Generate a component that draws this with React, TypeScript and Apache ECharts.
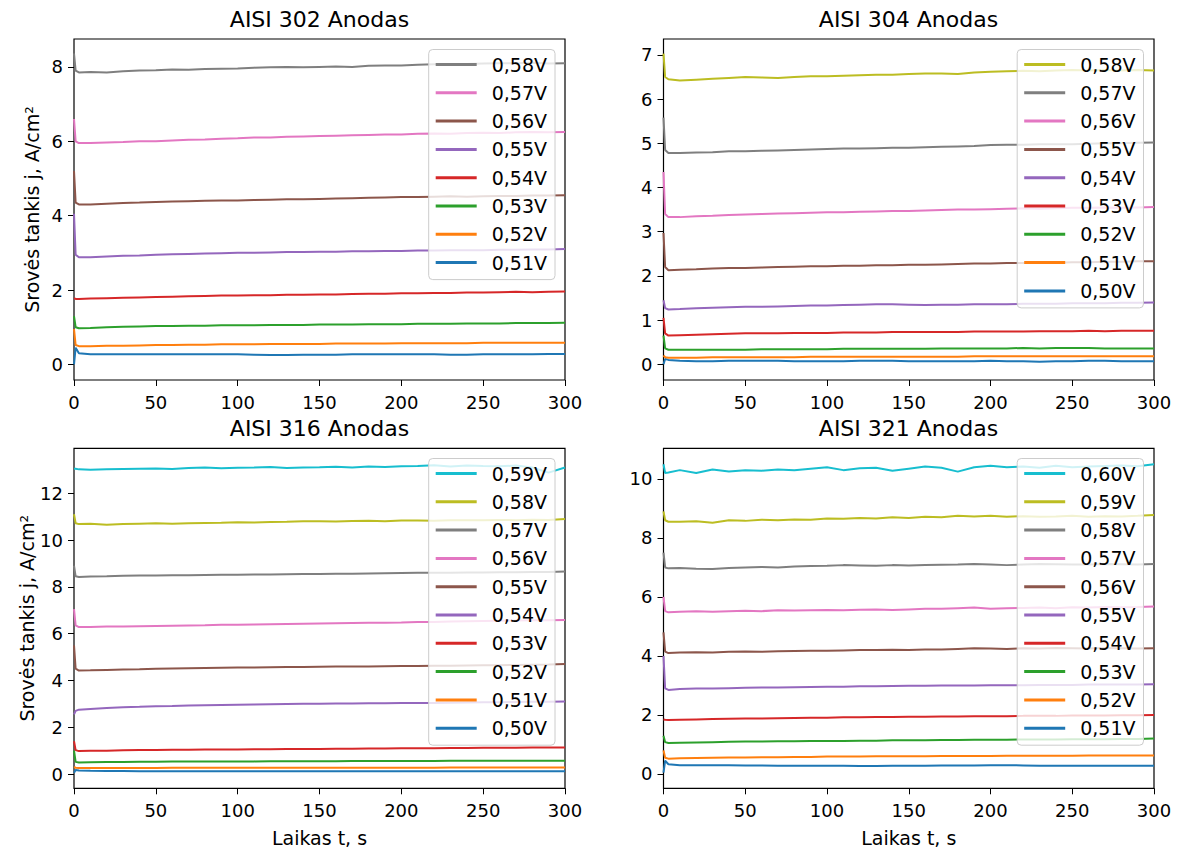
import { useEffect, useRef } from "react";
import * as echarts from "echarts";

// time axis, s
const TIME = [0, 1, 3, 10, 20, 30, 40, 50, 60, 70, 80, 90, 100, 110, 120, 130, 140, 150, 160, 170, 180, 190, 200, 210, 220, 230, 240, 250, 260, 270, 280, 290, 300];
const X_TICKS = [0, 50, 100, 150, 200, 250, 300];

// ---------- AISI 302 ----------
const LABELS_302 = ["0,51V", "0,52V", "0,53V", "0,54V", "0,55V", "0,56V", "0,57V", "0,58V"];
const Y_TICKS_302 = [0, 2, 4, 6, 8];
const J302_051 = [0.0, 0.45, 0.3, 0.27, 0.27, 0.27, 0.27, 0.27, 0.27, 0.27, 0.27, 0.27, 0.27, 0.26, 0.25, 0.25, 0.26, 0.26, 0.26, 0.27, 0.27, 0.27, 0.27, 0.27, 0.27, 0.26, 0.26, 0.27, 0.27, 0.27, 0.27, 0.28, 0.28];
const J302_052 = [0.95, 0.52, 0.49, 0.49, 0.5, 0.5, 0.51, 0.52, 0.52, 0.53, 0.53, 0.54, 0.54, 0.54, 0.55, 0.55, 0.55, 0.55, 0.56, 0.56, 0.56, 0.56, 0.57, 0.57, 0.57, 0.57, 0.57, 0.58, 0.58, 0.58, 0.58, 0.58, 0.58];
const J302_053 = [1.3, 1.0, 0.97, 0.98, 1.0, 1.01, 1.02, 1.03, 1.03, 1.04, 1.04, 1.05, 1.05, 1.05, 1.06, 1.06, 1.06, 1.07, 1.07, 1.07, 1.08, 1.08, 1.08, 1.09, 1.09, 1.09, 1.1, 1.1, 1.1, 1.11, 1.11, 1.11, 1.12];
const J302_054 = [1.78, 1.76, 1.76, 1.77, 1.78, 1.79, 1.8, 1.81, 1.82, 1.83, 1.84, 1.85, 1.85, 1.86, 1.86, 1.87, 1.87, 1.88, 1.88, 1.89, 1.9, 1.9, 1.91, 1.91, 1.92, 1.92, 1.93, 1.93, 1.94, 1.95, 1.94, 1.95, 1.96];
const J302_055 = [4.05, 2.95, 2.88, 2.88, 2.9, 2.92, 2.93, 2.95, 2.96, 2.97, 2.98, 2.99, 3.0, 3.0, 3.01, 3.02, 3.02, 3.03, 3.03, 3.04, 3.04, 3.05, 3.05, 3.06, 3.06, 3.07, 3.07, 3.07, 3.08, 3.08, 3.09, 3.09, 3.1];
const J302_056 = [5.2, 4.35, 4.3, 4.3, 4.32, 4.34, 4.35, 4.37, 4.38, 4.39, 4.4, 4.41, 4.41, 4.42, 4.43, 4.44, 4.44, 4.45, 4.46, 4.47, 4.48, 4.49, 4.5, 4.5, 4.51, 4.52, 4.51, 4.52, 4.53, 4.53, 4.54, 4.54, 4.55];
const J302_057 = [6.6, 6.0, 5.95, 5.95, 5.97, 5.98, 6.0, 6.0, 6.02, 6.04, 6.05, 6.07, 6.08, 6.1, 6.1, 6.12, 6.13, 6.14, 6.15, 6.16, 6.17, 6.18, 6.18, 6.2, 6.21, 6.2, 6.22, 6.23, 6.22, 6.24, 6.25, 6.24, 6.25];
const J302_058 = [8.36, 7.9, 7.85, 7.86, 7.85, 7.88, 7.9, 7.91, 7.93, 7.92, 7.94, 7.95, 7.96, 7.98, 7.99, 8.0, 7.99, 8.0, 8.01, 8.0, 8.03, 8.04, 8.04, 8.06, 8.07, 8.08, 8.08, 8.09, 8.1, 8.1, 8.11, 8.09, 8.1];

// ---------- AISI 304 ----------
const LABELS_304 = ["0,50V", "0,51V", "0,52V", "0,53V", "0,54V", "0,55V", "0,56V", "0,57V", "0,58V"];
const Y_TICKS_304 = [0, 1, 2, 3, 4, 5, 6, 7];
const J304_050 = [0.0, 0.12, 0.1, 0.08, 0.07, 0.07, 0.08, 0.08, 0.08, 0.08, 0.07, 0.07, 0.07, 0.07, 0.08, 0.08, 0.08, 0.07, 0.07, 0.07, 0.07, 0.07, 0.08, 0.07, 0.07, 0.06, 0.07, 0.07, 0.08, 0.08, 0.07, 0.07, 0.07];
const J304_051 = [0.2, 0.16, 0.15, 0.15, 0.15, 0.16, 0.16, 0.16, 0.16, 0.16, 0.16, 0.17, 0.17, 0.17, 0.17, 0.17, 0.17, 0.17, 0.17, 0.17, 0.17, 0.18, 0.18, 0.18, 0.18, 0.18, 0.18, 0.18, 0.18, 0.18, 0.18, 0.18, 0.18];
const J304_052 = [0.65, 0.36, 0.33, 0.33, 0.33, 0.33, 0.33, 0.33, 0.34, 0.34, 0.34, 0.34, 0.34, 0.35, 0.35, 0.35, 0.35, 0.35, 0.35, 0.36, 0.36, 0.36, 0.36, 0.36, 0.37, 0.36, 0.37, 0.37, 0.37, 0.36, 0.36, 0.36, 0.36];
const J304_053 = [1.05, 0.7, 0.65, 0.66, 0.67, 0.68, 0.69, 0.7, 0.7, 0.7, 0.71, 0.71, 0.71, 0.72, 0.72, 0.72, 0.73, 0.73, 0.73, 0.73, 0.73, 0.74, 0.74, 0.74, 0.74, 0.75, 0.75, 0.75, 0.76, 0.75, 0.76, 0.76, 0.76];
const J304_054 = [1.45, 1.27, 1.24, 1.25, 1.27, 1.28, 1.29, 1.3, 1.3, 1.31, 1.32, 1.33, 1.33, 1.34, 1.35, 1.36, 1.36, 1.35, 1.34, 1.35, 1.35, 1.36, 1.36, 1.36, 1.37, 1.37, 1.37, 1.38, 1.38, 1.38, 1.39, 1.39, 1.4];
const J304_055 = [2.97, 2.2, 2.13, 2.14, 2.15, 2.17, 2.18, 2.18, 2.19, 2.2, 2.21, 2.22, 2.22, 2.23, 2.23, 2.24, 2.24, 2.25, 2.25, 2.26, 2.27, 2.28, 2.28, 2.29, 2.29, 2.3, 2.3, 2.31, 2.31, 2.32, 2.32, 2.33, 2.33];
const J304_056 = [4.35, 3.4, 3.33, 3.33, 3.35, 3.36, 3.38, 3.39, 3.4, 3.41, 3.42, 3.43, 3.44, 3.44, 3.45, 3.46, 3.47, 3.47, 3.48, 3.49, 3.5, 3.5, 3.51, 3.52, 3.53, 3.52, 3.53, 3.54, 3.54, 3.55, 3.54, 3.55, 3.56];
const J304_057 = [5.58, 4.85, 4.78, 4.78, 4.79, 4.8, 4.82, 4.82, 4.83, 4.84, 4.85, 4.86, 4.87, 4.88, 4.88, 4.89, 4.9, 4.9, 4.91, 4.92, 4.93, 4.94, 4.96, 4.97, 4.97, 4.98, 4.98, 4.98, 4.99, 5.0, 5.0, 5.01, 5.02];
const J304_058 = [7.03, 6.5, 6.45, 6.42, 6.44, 6.46, 6.48, 6.5, 6.49, 6.48, 6.5, 6.52, 6.52, 6.53, 6.54, 6.55, 6.55, 6.57, 6.58, 6.58, 6.57, 6.6, 6.62, 6.63, 6.64, 6.63, 6.65, 6.66, 6.65, 6.66, 6.65, 6.66, 6.65];

// ---------- AISI 316 ----------
const LABELS_316 = ["0,50V", "0,51V", "0,52V", "0,53V", "0,54V", "0,55V", "0,56V", "0,57V", "0,58V", "0,59V"];
const Y_TICKS_316 = [0, 2, 4, 6, 8, 10, 12];
const J316_050 = [0.05, 0.17, 0.15, 0.14, 0.13, 0.13, 0.12, 0.12, 0.12, 0.12, 0.12, 0.12, 0.12, 0.12, 0.12, 0.12, 0.12, 0.12, 0.12, 0.12, 0.12, 0.12, 0.12, 0.12, 0.12, 0.12, 0.12, 0.12, 0.12, 0.12, 0.12, 0.12, 0.12];
const J316_051 = [0.3, 0.27, 0.26, 0.26, 0.26, 0.26, 0.26, 0.26, 0.27, 0.27, 0.27, 0.27, 0.27, 0.27, 0.27, 0.27, 0.27, 0.27, 0.27, 0.27, 0.27, 0.27, 0.27, 0.27, 0.27, 0.28, 0.28, 0.28, 0.28, 0.28, 0.28, 0.28, 0.28];
const J316_052 = [1.0, 0.52, 0.49, 0.5, 0.51, 0.51, 0.52, 0.52, 0.53, 0.53, 0.54, 0.54, 0.54, 0.54, 0.55, 0.55, 0.55, 0.55, 0.55, 0.56, 0.56, 0.56, 0.56, 0.56, 0.56, 0.57, 0.57, 0.57, 0.57, 0.57, 0.57, 0.57, 0.57];
const J316_053 = [1.4, 1.02, 0.98, 0.99, 1.0, 1.02, 1.03, 1.03, 1.04, 1.04, 1.05, 1.05, 1.05, 1.06, 1.06, 1.07, 1.07, 1.07, 1.08, 1.08, 1.09, 1.09, 1.1, 1.1, 1.1, 1.11, 1.11, 1.12, 1.12, 1.12, 1.13, 1.13, 1.13];
const J316_054 = [2.55, 2.7, 2.75, 2.78, 2.82, 2.85, 2.87, 2.9, 2.91, 2.93, 2.94, 2.95, 2.96, 2.97, 2.98, 2.99, 3.0, 3.0, 3.01, 3.01, 3.02, 3.02, 3.03, 3.04, 3.04, 3.05, 3.06, 3.07, 3.07, 3.08, 3.09, 3.09, 3.1];
const J316_055 = [5.5, 4.5, 4.42, 4.43, 4.45, 4.47, 4.48, 4.5, 4.51, 4.52, 4.53, 4.54, 4.55, 4.55, 4.56, 4.57, 4.57, 4.58, 4.59, 4.6, 4.6, 4.61, 4.62, 4.62, 4.63, 4.63, 4.64, 4.65, 4.65, 4.66, 4.67, 4.68, 4.7];
const J316_056 = [7.05, 6.35, 6.28, 6.28, 6.3, 6.3, 6.32, 6.33, 6.34, 6.35, 6.36, 6.38, 6.38, 6.39, 6.4, 6.41, 6.42, 6.43, 6.44, 6.45, 6.46, 6.47, 6.48, 6.5, 6.5, 6.52, 6.53, 6.54, 6.55, 6.56, 6.57, 6.57, 6.58];
const J316_057 = [8.9, 8.45, 8.42, 8.44, 8.45, 8.47, 8.48, 8.48, 8.5, 8.5, 8.51, 8.52, 8.52, 8.53, 8.53, 8.54, 8.55, 8.55, 8.56, 8.56, 8.57, 8.58, 8.59, 8.6, 8.6, 8.6, 8.61, 8.61, 8.62, 8.62, 8.63, 8.63, 8.65];
const J316_058 = [11.1, 10.72, 10.68, 10.7, 10.65, 10.68, 10.7, 10.72, 10.7, 10.72, 10.73, 10.74, 10.76, 10.75, 10.77, 10.78, 10.8, 10.8, 10.79, 10.81, 10.82, 10.8, 10.83, 10.83, 10.82, 10.84, 10.85, 10.84, 10.86, 10.85, 10.87, 10.86, 10.9];
const J316_059 = [13.05, 13.05, 13.02, 13.0, 13.02, 13.04, 13.05, 13.06, 13.04, 13.08, 13.1, 13.07, 13.09, 13.1, 13.12, 13.08, 13.1, 13.11, 13.13, 13.1, 13.14, 13.12, 13.15, 13.16, 13.2, 13.14, 13.18, 13.16, 13.15, 13.18, 13.1, 12.88, 13.1];

// ---------- AISI 321 ----------
const LABELS_321 = ["0,51V", "0,52V", "0,53V", "0,54V", "0,55V", "0,56V", "0,57V", "0,58V", "0,59V", "0,60V"];
const Y_TICKS_321 = [0, 2, 4, 6, 8, 10];
const J321_051 = [0.05, 0.45, 0.33, 0.3, 0.3, 0.3, 0.3, 0.29, 0.29, 0.28, 0.28, 0.28, 0.28, 0.28, 0.27, 0.27, 0.28, 0.28, 0.28, 0.29, 0.29, 0.29, 0.3, 0.3, 0.29, 0.28, 0.28, 0.28, 0.28, 0.28, 0.28, 0.28, 0.28];
const J321_052 = [0.8, 0.55, 0.52, 0.53, 0.54, 0.55, 0.56, 0.56, 0.57, 0.57, 0.58, 0.58, 0.59, 0.59, 0.59, 0.6, 0.6, 0.6, 0.6, 0.61, 0.61, 0.61, 0.61, 0.62, 0.62, 0.62, 0.62, 0.62, 0.63, 0.63, 0.63, 0.63, 0.63];
const J321_053 = [1.3, 1.08, 1.05, 1.06, 1.07, 1.08, 1.09, 1.1, 1.1, 1.11, 1.11, 1.12, 1.12, 1.12, 1.13, 1.13, 1.14, 1.14, 1.14, 1.15, 1.15, 1.16, 1.16, 1.16, 1.17, 1.17, 1.17, 1.18, 1.18, 1.18, 1.19, 1.19, 1.2];
const J321_054 = [1.85, 1.84, 1.83, 1.84, 1.85, 1.86, 1.87, 1.88, 1.88, 1.89, 1.9, 1.91, 1.91, 1.92, 1.92, 1.93, 1.93, 1.94, 1.94, 1.95, 1.95, 1.96, 1.96, 1.96, 1.97, 1.97, 1.97, 1.98, 1.98, 1.98, 1.99, 1.99, 2.0];
const J321_055 = [4.0, 2.9, 2.85, 2.88, 2.9, 2.9, 2.91, 2.92, 2.93, 2.93, 2.94, 2.95, 2.96, 2.96, 2.97, 2.97, 2.98, 2.99, 2.99, 3.0, 3.0, 3.0, 3.01, 3.01, 3.01, 3.02, 3.02, 3.02, 3.03, 3.03, 3.03, 3.03, 3.04];
const J321_056 = [4.8, 4.15, 4.1, 4.12, 4.13, 4.12, 4.14, 4.15, 4.14, 4.16, 4.17, 4.18, 4.18, 4.19, 4.2, 4.2, 4.21, 4.2, 4.22, 4.22, 4.24, 4.26, 4.25, 4.24, 4.26, 4.25, 4.27, 4.26, 4.25, 4.27, 4.26, 4.25, 4.26];
const J321_057 = [6.0, 5.52, 5.48, 5.5, 5.52, 5.5, 5.52, 5.53, 5.52, 5.55, 5.54, 5.55, 5.56, 5.55, 5.57, 5.58, 5.56, 5.58, 5.6, 5.6, 5.62, 5.64, 5.6, 5.62, 5.63, 5.64, 5.62, 5.65, 5.64, 5.66, 5.65, 5.66, 5.68];
const J321_058 = [7.5, 7.0, 6.97, 6.98, 6.96, 6.95, 6.98, 7.0, 7.02, 7.0, 7.03, 7.05, 7.06, 7.08, 7.07, 7.06, 7.08, 7.07, 7.08, 7.09, 7.1, 7.12, 7.1, 7.08, 7.1, 7.12, 7.11, 7.1, 7.1, 7.12, 7.11, 7.1, 7.12];
const J321_059 = [8.9, 8.6, 8.55, 8.55, 8.57, 8.52, 8.6, 8.58, 8.62, 8.6, 8.63, 8.62, 8.66, 8.65, 8.68, 8.66, 8.7, 8.68, 8.72, 8.7, 8.75, 8.73, 8.75, 8.72, 8.74, 8.72, 8.73, 8.75, 8.72, 8.74, 8.73, 8.75, 8.78];
const J321_060 = [10.5, 10.2, 10.22, 10.3, 10.2, 10.32, 10.25, 10.3, 10.28, 10.32, 10.3, 10.35, 10.4, 10.3, 10.36, 10.38, 10.28, 10.35, 10.42, 10.38, 10.25, 10.4, 10.45, 10.4, 10.42, 10.38, 10.45, 10.4, 10.42, 10.44, 10.46, 10.43, 10.5];

const TITLES = ["AISI 302 Anodas", "AISI 304 Anodas", "AISI 316 Anodas", "AISI 321 Anodas"];
const Y_NAME = "Srovės tankis j, A/cm²";
const X_NAME = "Laikas t, s";

// matplotlib tab10
const TAB10 = ["#1f77b4", "#ff7f0e", "#2ca02c", "#d62728", "#9467bd", "#8c564b", "#e377c2", "#7f7f7f", "#bcbd22", "#17becf"];
const FONT = "'DejaVu Sans', 'Liberation Sans', sans-serif";

const PANELS = [
  { key: "302", labels: LABELS_302, values: [J302_051, J302_052, J302_053, J302_054, J302_055, J302_056, J302_057, J302_058], ticks: Y_TICKS_302, min: -0.42, max: 8.75 },
  { key: "304", labels: LABELS_304, values: [J304_050, J304_051, J304_052, J304_053, J304_054, J304_055, J304_056, J304_057, J304_058], ticks: Y_TICKS_304, min: -0.355, max: 7.36 },
  { key: "316", labels: LABELS_316, values: [J316_050, J316_051, J316_052, J316_053, J316_054, J316_055, J316_056, J316_057, J316_058, J316_059], ticks: Y_TICKS_316, min: -0.61, max: 13.92 },
  { key: "321", labels: LABELS_321, values: [J321_051, J321_052, J321_053, J321_054, J321_055, J321_056, J321_057, J321_058, J321_059, J321_060], ticks: Y_TICKS_321, min: -0.485, max: 11.04 },
];

// layout (pixels)
const GRIDS = [
  { left: 74, top: 39, width: 491, height: 341 },
  { left: 663.5, top: 39, width: 490.5, height: 341 },
  { left: 74, top: 448.3, width: 491, height: 340 },
  { left: 663.5, top: 448.3, width: 490.5, height: 340 },
];
const LEGEND_POS = [
  { right: 631, top: 49.5 },
  { right: 42.5, top: 49.5 },
  { right: 631, top: 458.5 },
  { right: 42.5, top: 458.5 },
];
const TITLE_POS = [
  { left: 319.5, top: 8 },
  { left: 908.5, top: 8 },
  { left: 319.5, top: 417 },
  { left: 908.5, top: 417 },
];

export default function App() {
  const ref = useRef<HTMLDivElement>(null);

  useEffect(() => {
    document.body.style.margin = "0";
    document.body.style.overflow = "hidden";
    if (!ref.current) return;
    const chart = echarts.init(ref.current, null, { renderer: "svg" });

    const series: any[] = [];
    const legends: any[] = [];
    const xAxes: any[] = [];
    const yAxes: any[] = [];
    const titles: any[] = [];

    PANELS.forEach((p, pi) => {
      const names = p.labels.map((l) => p.key + "|" + l);
      p.values.forEach((vals, si) => {
        series.push({
          name: names[si],
          type: "line",
          xAxisIndex: pi,
          yAxisIndex: pi,
          data: TIME.map((t, i) => [t, vals[i]]),
          showSymbol: false,
          symbol: "none",
          clip: true,
          color: TAB10[si],
          lineStyle: { width: 2, color: TAB10[si] },
          z: 2,
        });
      });
      legends.push({
        orient: "vertical",
        right: LEGEND_POS[pi].right,
        top: LEGEND_POS[pi].top,
        padding: [5, 8, 7, 7],
        itemGap: 8.3,
        itemWidth: 41,
        itemHeight: 3,
        icon: "rect",
        selectedMode: false,
        backgroundColor: "rgba(255,255,255,0.8)",
        borderColor: "#cccccc",
        borderWidth: 1,
        borderRadius: 4,
        data: names.slice().reverse(),
        formatter: (n: string) => n.split("|")[1],
        textStyle: { fontSize: 19, fontFamily: FONT, color: "#000", lineHeight: 20, padding: [0, 0, 0, 10] },
      });
      const bottom = pi >= 2;
      const left = pi % 2 === 0;
      xAxes.push({
        type: "value",
        gridIndex: pi,
        min: 0,
        max: 300,
        interval: 50,
        splitLine: { show: false },
        axisLine: { show: false, onZero: false },
        axisTick: { show: true, length: 6, lineStyle: { color: "#000", width: 1 }, customValues: X_TICKS },
        axisLabel: { fontSize: 18, color: "#000", fontFamily: FONT, margin: 13, customValues: X_TICKS },
        name: bottom ? X_NAME : "",
        nameLocation: "middle",
        nameGap: 40,
        nameTextStyle: { fontSize: 19, color: "#000", fontFamily: FONT },
      });
      yAxes.push({
        type: "value",
        gridIndex: pi,
        min: p.min,
        max: p.max,
        splitLine: { show: false },
        axisLine: { show: false, onZero: false },
        axisTick: { show: true, length: 6, lineStyle: { color: "#000", width: 1 }, customValues: p.ticks },
        axisLabel: { fontSize: 18, color: "#000", fontFamily: FONT, margin: 11, customValues: p.ticks },
        name: left ? Y_NAME : "",
        nameLocation: "middle",
        nameGap: 33,
        nameTextStyle: { fontSize: 19, color: "#000", fontFamily: FONT },
      });
      titles.push({
        text: TITLES[pi],
        left: TITLE_POS[pi].left,
        top: TITLE_POS[pi].top,
        textAlign: "center",
        padding: 0,
        textStyle: { fontSize: 22, fontWeight: "normal", color: "#000", fontFamily: FONT },
      });
    });

    chart.setOption({
      animation: false,
      backgroundColor: "#ffffff",
      textStyle: { fontFamily: FONT },
      title: titles,
      legend: legends,
      grid: GRIDS.map((g) => ({ ...g, show: true, borderColor: "#000", borderWidth: 1.2, backgroundColor: "transparent", containLabel: false })),
      xAxis: xAxes,
      yAxis: yAxes,
      series,
    });

    return () => chart.dispose();
  }, []);

  return <div ref={ref} style={{ width: 1186, height: 854 }} />;
}
